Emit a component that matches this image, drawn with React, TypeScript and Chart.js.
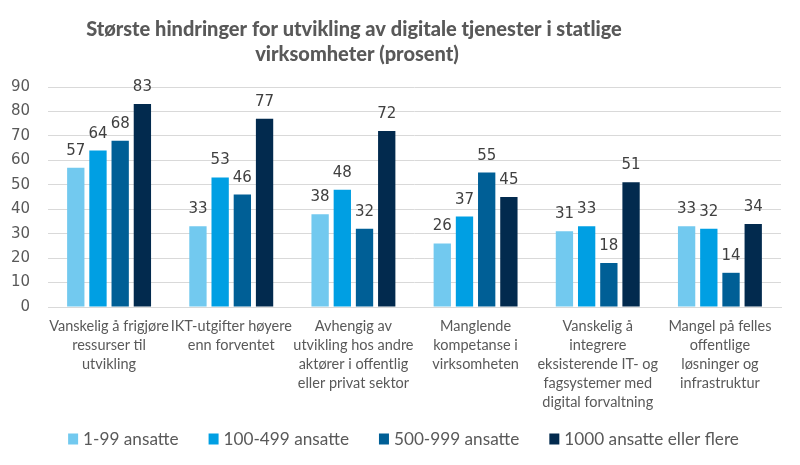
import React, { useEffect, useRef } from "react";
import { Chart, registerables } from "chart.js";
Chart.register(...registerables);

const titleLines = ["Største hindringer for utvikling av digitale tjenester i statlige", "virksomheter (prosent)"];
const categories: string[][] = [
  ["Vanskelig å frigjøre", "ressurser til", "utvikling"],
  ["IKT-utgifter høyere", "enn forventet"],
  ["Avhengig av", "utvikling hos andre", "aktører i offentlig", "eller privat sektor"],
  ["Manglende", "kompetanse i", "virksomheten"],
  ["Vanskelig å", "integrere", "eksisterende IT- og", "fagsystemer med", "digital forvaltning"],
  ["Mangel på felles", "offentlige", "løsninger og", "infrastruktur"],
];
const seriesNames = ["1-99 ansatte", "100-499 ansatte", "500-999 ansatte", "1000 ansatte eller flere"];
const s1 = [57, 33, 38, 26, 31, 33];
const s2 = [64, 53, 48, 37, 33, 32];
const s3 = [68, 46, 32, 55, 18, 14];
const s4 = [83, 77, 72, 45, 51, 34];
const colors = ["#72C9EF", "#009FE3", "#005F96", "#022A4E"];
const yTicks = [0, 10, 20, 30, 40, 50, 60, 70, 80, 90];

const labelPlugin = {
  id: "valueLabels",
  afterDatasetsDraw(chart: any) {
    const ctx = chart.ctx;
    ctx.save();
    ctx.font = "15px 'DejaVu Sans'";
    ctx.fillStyle = "#404040";
    ctx.textAlign = "center";
    ctx.textBaseline = "alphabetic";
    chart.data.datasets.forEach((ds: any, i: number) => {
      const meta = chart.getDatasetMeta(i);
      meta.data.forEach((el: any, j: number) => {
        ctx.fillText(String(ds.data[j]), el.x, el.y - 13);
      });
    });
    ctx.restore();
  },
};

const titlePlugin = {
  id: "customTitle",
  afterDraw(chart: any) {
    const ctx = chart.ctx;
    ctx.save();
    ctx.font = "900 20px Lato";
    ctx.fillStyle = "#595959";
    ctx.textAlign = "center";
    ctx.textBaseline = "middle";
    ctx.fillText(titleLines[0], 354, 30);
    ctx.fillText(titleLines[1], 357, 55);
    ctx.restore();
  },
};

const legendPlugin = {
  id: "customLegend",
  afterDraw(chart: any) {
    const ctx = chart.ctx;
    ctx.save();
    ctx.font = "17.2px Lato";
    ctx.textBaseline = "middle";
    ctx.textAlign = "left";
    const boxW = 10, boxH = 11, gapBT = 5, gapItems = 30;
    const widths = chart.data.datasets.map((ds: any) => ctx.measureText(ds.label).width);
    const total = widths.reduce((a: number, w: number) => a + boxW + gapBT + w, 0) + gapItems * (widths.length - 1);
    let x = 403.5 - total / 2;
    const y = 439;
    chart.data.datasets.forEach((ds: any, i: number) => {
      ctx.fillStyle = ds.backgroundColor;
      ctx.fillRect(x, y - boxH / 2, boxW, boxH);
      ctx.fillStyle = "#595959";
      ctx.fillText(ds.label, x + boxW + gapBT, y);
      x += boxW + gapBT + widths[i] + gapItems;
    });
    ctx.restore();
  },
};

export default function App() {
  const ref = useRef<HTMLCanvasElement>(null);
  useEffect(() => {
    document.body.style.margin = "0";
    const chart = new Chart(ref.current!, {
      type: "bar",
      data: {
        labels: categories,
        datasets: [s1, s2, s3, s4].map((d, i) => ({
          label: seriesNames[i],
          data: d,
          backgroundColor: colors[i],
          borderWidth: 0,
          categoryPercentage: 0.727,
          barPercentage: 0.78,
        })),
      },
      options: {
        responsive: false,
        animation: false,
        layout: { padding: { top: 87, left: 11, right: 19, bottom: 43 } },
        plugins: {
          title: { display: false },
          tooltip: { enabled: false },
          legend: { display: false },
        },
        scales: {
          x: {
            afterFit: (scale: any) => {
              scale.paddingLeft = 0;
              scale.paddingRight = 0;
            },
            grid: { display: false, drawTicks: false },
            border: { color: "#d9d9d9", width: 1 },
            ticks: {
              font: { family: "Lato", size: 14.5, lineHeight: 1.31 },
              color: "#595959",
              maxRotation: 0,
              autoSkip: false,
              padding: 10,
            },
          },
          y: {
            min: 0,
            max: 90,
            afterBuildTicks: (axis: any) => {
              axis.ticks = yTicks.map((v) => ({ value: v }));
            },
            afterFit: (axis: any) => {
              axis.width = 37;
            },
            grid: { color: "#d9d9d9", drawTicks: false },
            border: { display: false },
            ticks: {
              font: { family: "DejaVu Sans", size: 15 },
              color: "#595959",
              padding: 18,
            },
          },
        },
      },
      plugins: [labelPlugin, titlePlugin, legendPlugin],
    });
    return () => chart.destroy();
  }, []);
  return <canvas ref={ref} width={800} height={465} style={{ display: "block" }} />;
}
